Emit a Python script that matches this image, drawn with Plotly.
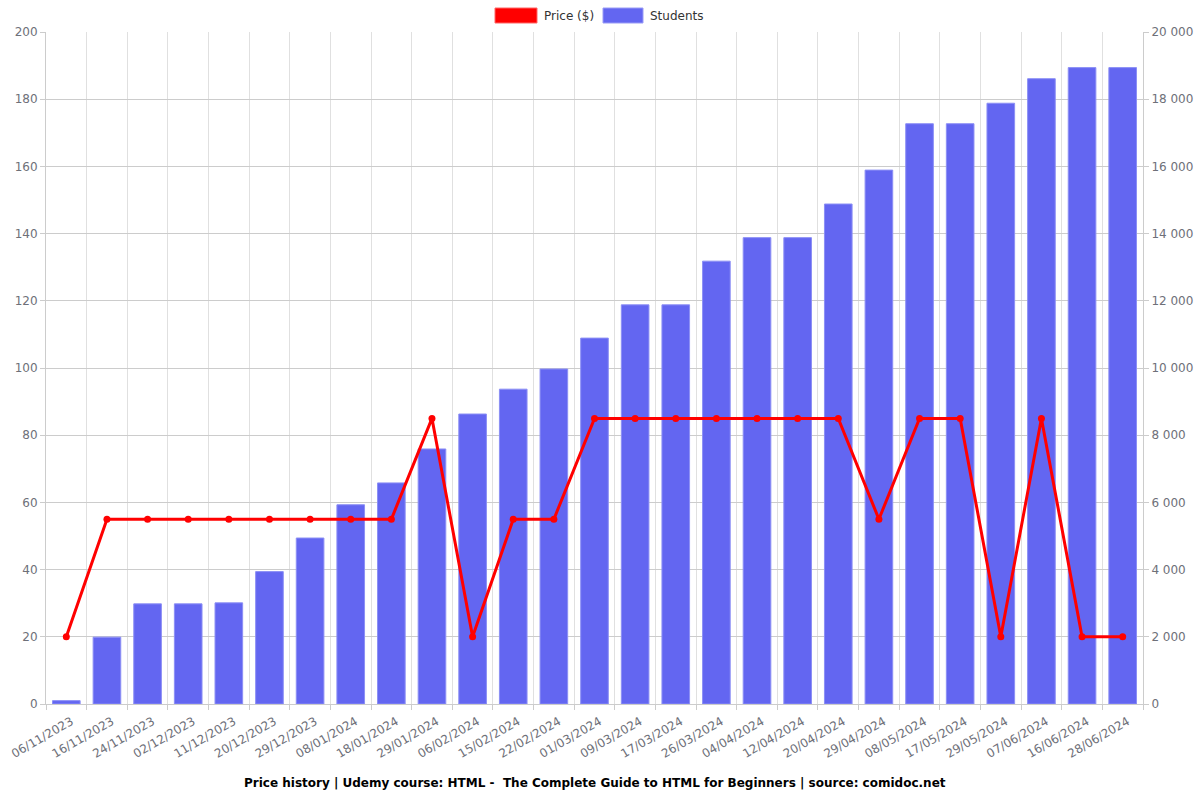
import plotly.graph_objects as go

dates = [
    "06/11/2023", "16/11/2023", "24/11/2023", "02/12/2023", "11/12/2023",
    "20/12/2023", "29/12/2023", "08/01/2024", "18/01/2024", "29/01/2024",
    "06/02/2024", "15/02/2024", "22/02/2024", "01/03/2024", "09/03/2024",
    "17/03/2024", "26/03/2024", "04/04/2024", "12/04/2024", "20/04/2024",
    "29/04/2024", "08/05/2024", "17/05/2024", "29/05/2024", "07/06/2024",
    "16/06/2024", "28/06/2024",
]
prices = [20, 55, 55, 55, 55, 55, 55, 55, 55, 85, 20, 55, 55, 85, 85,
          85, 85, 85, 85, 85, 55, 85, 85, 20, 85, 20, 20]
students = [100, 1990, 2980, 2980, 3010, 3940, 4940, 5930, 6580, 7590,
            8630, 9370, 9970, 10890, 11880, 11880, 13180, 13880, 13880, 14880,
            15890, 17270, 17270, 17880, 18610, 18940, 18940]

RED = "#ff0000"
BLUE = "#6366f1"
GREY_TXT = "#6e7079"

# plot area in pixels
L, R, T, B = 46, 1143, 32, 704


def px(x):
    return (x - L) / (R - L)


def py(y):
    return (B - y) / (B - T)


fig = go.Figure()

# students on the base axis (drawn at the right), price overlaid so the line sits on top
fig.add_trace(go.Bar(
    x=dates, y=students, name="Students", marker_color=BLUE,
    marker_line=dict(color="#8c8ff5", width=1), yaxis="y",
))
fig.add_trace(go.Scatter(
    x=dates, y=prices, name="Price ($)", mode="lines+markers",
    line=dict(color=RED, width=3), marker=dict(color=RED, size=7),
    yaxis="y2",
))

# echarts-style legend: wide colour blocks with labels
legend_items = [("Price ($)", RED, "#ff6666", 495, 537), ("Students", BLUE, "#9a9cf6", 603, 643)]
shapes, annotations = [], []
for label, fill, edge, x0, x1 in legend_items:
    shapes.append(dict(type="rect", xref="paper", yref="paper",
                       x0=px(x0), x1=px(x1), y0=py(23), y1=py(8),
                       fillcolor=fill, line=dict(color=edge, width=1)))
    annotations.append(dict(text=label, xref="paper", yref="paper",
                            x=px(x1 + 5), y=py(15.5), xanchor="left", yanchor="middle",
                            showarrow=False, font=dict(size=12, color="#333")))

annotations.append(dict(
    text="<b>Price history | Udemy course: HTML -  The Complete Guide to HTML for Beginners | source: comidoc.net</b>",
    x=0.5, xref="paper", y=py(783), yref="paper", xanchor="center", yanchor="middle",
    showarrow=False, font=dict(size=12, color="#000"),
))

fig.update_layout(
    width=1200, height=800,
    margin=dict(l=L, r=1200 - R, t=T, b=800 - B, autoexpand=False),
    paper_bgcolor="white", plot_bgcolor="white",
    font=dict(family="DejaVu Sans", size=12, color=GREY_TXT),
    separators=". ",
    bargap=0.32,
    showlegend=False,
    xaxis=dict(
        type="category", range=[-0.5, len(dates) - 0.5],
        tickson="boundaries", tickangle=-30,
        ticklabelstandoff=5, ticklabelshift=5,
        showgrid=True, gridcolor="#e0e0e0", ticks="outside", ticklen=5,
        tickcolor="#ccc", showline=True, linecolor="#ccc",
        tickfont=dict(size=12, color=GREY_TXT), automargin=False,
    ),
    yaxis=dict(
        range=[0, 20000], dtick=2000, side="right",
        showgrid=False, ticks="outside", ticklen=5, tickcolor="#ccc",
        showline=True, linecolor="#ccc", zeroline=False,
        tickformat=",d", tickfont=dict(size=12, color=GREY_TXT), automargin=False,
    ),
    yaxis2=dict(
        range=[0, 200], dtick=20, overlaying="y", side="left",
        showgrid=True, gridcolor="#cccccc",
        ticks="outside", ticklen=5, tickcolor="#ccc", showline=True,
        linecolor="#ccc", zeroline=False, tickfont=dict(size=12, color=GREY_TXT),
        automargin=False,
    ),
    shapes=shapes,
    annotations=annotations,
)

fig.write_html("out.html", config={"displayModeBar": False},
               post_script="document.body.style.margin = '0';")
